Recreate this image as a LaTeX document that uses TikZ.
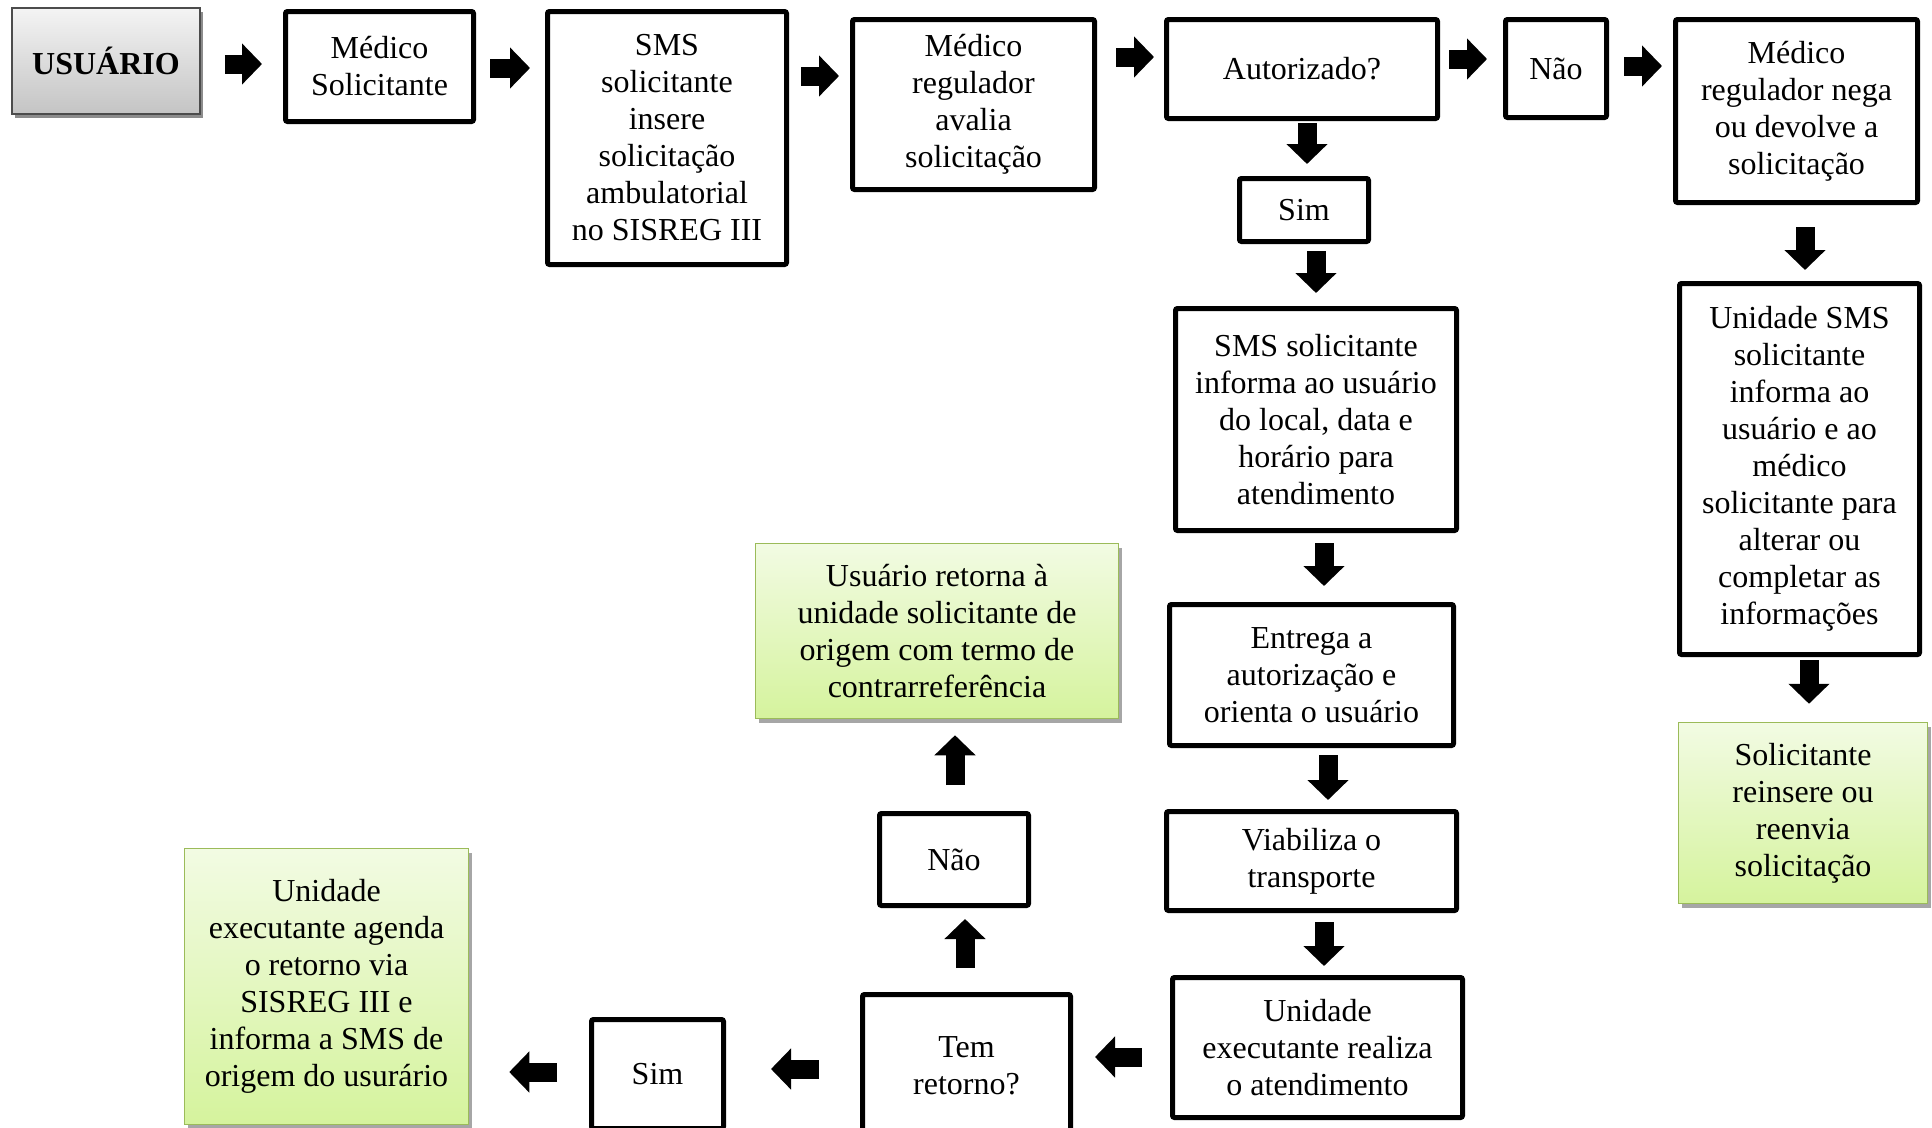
\documentclass[tikz,border=0pt]{standalone}
\usepackage{fontspec}
\setmainfont{Liberation Serif}
\usetikzlibrary{arrows.meta,shadows}
\definecolor{greenedge}{HTML}{9BBB59}
\definecolor{greentop}{HTML}{F2FBE3}
\definecolor{greenbot}{HTML}{D5F39D}
\definecolor{graytop}{HTML}{F4F4F4}
\definecolor{graybot}{HTML}{C4C4C4}
\tikzset{
  every node/.style={font=\fontsize{32}{37}\selectfont, align=center, inner sep=0pt},
  stepbox/.style={draw=black, line width=5pt, rounded corners=2pt, fill=white},
  endbox/.style={draw=greenedge, line width=1.5pt, top color=greentop, bottom color=greenbot,
    drop shadow={shadow xshift=3pt, shadow yshift=-4pt, opacity=0.35, fill=black}},
  startbox/.style={draw=black!70, line width=1.5pt, top color=graytop, bottom color=graybot,
    drop shadow={shadow xshift=3pt, shadow yshift=-4pt, opacity=0.45, fill=black}},
  flow/.style={line width=19pt, -{Triangle[length=20pt,width=40pt]}},
}
\begin{document}
\begin{tikzpicture}[x=1pt,y=-1pt]
\useasboundingbox (0,0) rectangle (1932,1127);

% first row
\node[startbox, minimum width=188, minimum height=106] (usr) at (106,61) {\bfseries USUÁRIO};
\node[stepbox, minimum width=188, minimum height=110] (med) at (379.5,66.5) {Médico\\Solicitante};
\node[stepbox, minimum width=239, minimum height=253] (sms) at (667,138) {SMS\\solicitante\\insere\\solicitação\\ambulatorial\\no SISREG III};
\node[stepbox, minimum width=242, minimum height=170] (reg) at (973.5,104.5) {Médico\\regulador\\avalia\\solicitação};
\node[stepbox, minimum width=271, minimum height=99] (aut) at (1302,69) {Autorizado?};
\node[stepbox, minimum width=101, minimum height=98] (nao1) at (1556,68.5) {Não};
\node[stepbox, minimum width=242, minimum height=183] (nega) at (1796.5,111) {Médico\\regulador nega\\ou devolve a\\solicitação};

% "Sim" branch, going down
\node[stepbox, minimum width=129, minimum height=63] (sim1) at (1304,210) {Sim};
\node[stepbox, minimum width=281, minimum height=222] (inf) at (1316,419.5) {SMS solicitante\\informa ao usuário\\do local, data e\\horário para\\atendimento};
\node[stepbox, minimum width=284, minimum height=141] (ent) at (1311.5,675) {Entrega a\\autorização e\\orienta o usuário};
\node[stepbox, minimum width=290, minimum height=99] (via) at (1311.5,861) {Viabiliza o\\transporte};
\node[stepbox, minimum width=290, minimum height=140] (exe) at (1317.5,1047.5) {Unidade\\executante realiza\\o atendimento};

% return question, bottom row
\node[stepbox, minimum width=208, minimum height=143] (tem) at (966.5,1066) {Tem\\retorno?};
\node[stepbox, minimum width=132, minimum height=109] (sim2) at (657.5,1074) {Sim};
\node[endbox, minimum width=284, minimum height=276] (age) at (326.5,986.5) {Unidade\\executante agenda\\o retorno via\\SISREG III e\\informa a SMS de\\origem do usurário};
\node[stepbox, minimum width=149, minimum height=92] (nao2) at (954,859.5) {Não};
\node[endbox, minimum width=363, minimum height=175] (ret) at (937,631) {Usuário retorna à\\unidade solicitante de\\origem com termo de\\contrarreferência};

% "Não" branch, right column
\node[stepbox, minimum width=240, minimum height=371] (uni) at (1799.5,469) {Unidade SMS\\solicitante\\informa ao\\usuário e ao\\médico\\solicitante para\\alterar ou\\completar as\\informações};
\node[endbox, minimum width=249, minimum height=181] (rei) at (1803,813) {Solicitante\\reinsere ou\\reenvia\\solicitação};

% connectors
\draw[flow, shorten <=24pt, shorten >=21pt] (usr.east |- 0,64) -- (med.west |- 0,64);
\draw[flow, shorten <=14pt, shorten >=15pt] (med.east |- 0,68) -- (sms.west |- 0,68);
\draw[flow, shorten <=12pt, shorten >=11pt] (sms.east |- 0,76) -- (reg.west |- 0,76);
\draw[flow, shorten <=19pt, shorten >=10pt] (reg.east |- 0,57) -- (aut.west |- 0,57);
\draw[flow, shorten <=9pt, shorten >=16pt] (aut.east |- 0,59) -- (nao1.west |- 0,59);
\draw[flow, shorten <=15pt, shorten >=11pt] (nao1.east |- 0,66) -- (nega.west |- 0,66);

\draw[flow, shorten <=2pt, shorten >=12pt] (aut.south -| 1307,0) -- (sim1.north -| 1307,0);
\draw[flow, shorten <=7pt, shorten >=13pt] (sim1.south -| 1316,0) -- (inf.north -| 1316,0);
\draw[flow, shorten <=10pt, shorten >=16pt] (inf.south -| 1324,0) -- (ent.north -| 1324,0);
\draw[flow, shorten <=7pt, shorten >=9pt] (ent.south -| 1328,0) -- (via.north -| 1328,0);
\draw[flow, shorten <=9pt, shorten >=9pt] (via.south -| 1324,0) -- (exe.north -| 1324,0);

\draw[flow, shorten <=28pt, shorten >=22pt] (exe.west |- 0,1057) -- (tem.east |- 0,1057);
\draw[flow, shorten <=41pt, shorten >=45pt] (tem.west |- 0,1069) -- (sim2.east |- 0,1069);
\draw[flow, shorten <=32pt, shorten >=40pt] (sim2.west |- 0,1072) -- (age.east |- 0,1072);

\draw[flow, shorten <=24pt, shorten >=11pt] (tem.north -| 965,0) -- (nao2.south -| 965,0);
\draw[flow, shorten <=26pt, shorten >=16pt] (nao2.north -| 955,0) -- (ret.south -| 955,0);

\draw[flow, shorten <=22pt, shorten >=11pt] (nega.south -| 1805,0) -- (uni.north -| 1805,0);
\draw[flow, shorten <=3pt, shorten >=18pt] (uni.south -| 1809,0) -- (rei.north -| 1809,0);
\end{tikzpicture}
\end{document}
